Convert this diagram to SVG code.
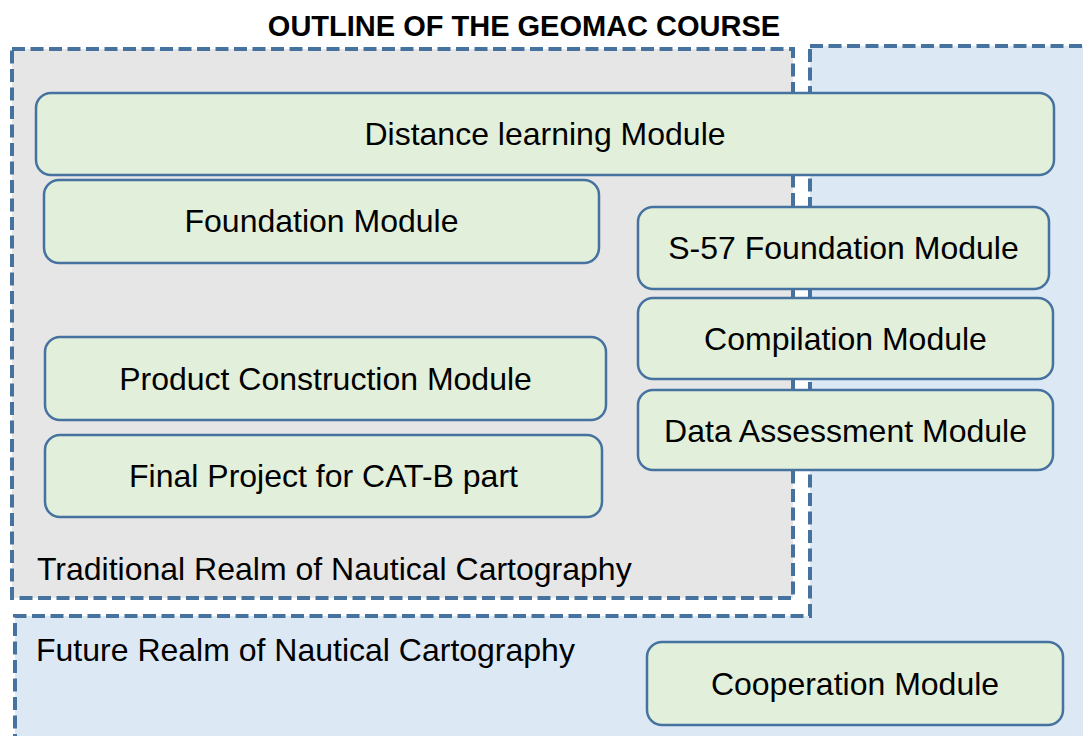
<svg xmlns="http://www.w3.org/2000/svg" width="1083" height="736" viewBox="0 0 1083 736">
<style>
.realm{stroke:#4672a0;stroke-width:4;stroke-dasharray:13 5.5;}
.node rect{fill:#e2efda;stroke:#4672a0;stroke-width:2.5;}
text{font-family:"Liberation Sans",Arial,sans-serif;fill:#000;}
.lbl{font-size:32px;text-anchor:middle;}
.rl{font-size:32px;}
.title{font-size:29px;font-weight:bold;text-anchor:middle;}
</style>
<rect width="1083" height="736" fill="#ffffff"/>
<g id="future-realm">
<path class="realm" fill="#dde8f5" d="M810,46 L1095,46 L1095,750 L15,750 L15,616 L810,616 Z"/>
<text class="rl" x="36" y="661">Future Realm of Nautical Cartography</text>
</g>
<g id="traditional-realm">
<rect class="realm" fill="#e6e6e6" x="12" y="49" width="781" height="549"/>
<text class="rl" x="37" y="580">Traditional Realm of Nautical Cartography</text>
</g>
<text class="title" x="524" y="36">OUTLINE OF THE GEOMAC COURSE</text>
<g id="connectors"></g>
<g id="distance-learning" class="node">
<rect x="36" y="93" width="1018" height="82" rx="15"/>
<text class="lbl" x="545" y="145">Distance learning Module</text>
</g>
<g id="foundation" class="node">
<rect x="44" y="180" width="555" height="83" rx="15"/>
<text class="lbl" x="321.5" y="232">Foundation Module</text>
</g>
<g id="s57-foundation" class="node">
<rect x="638" y="207" width="411" height="82" rx="15"/>
<text class="lbl" x="843.5" y="259">S-57 Foundation Module</text>
</g>
<g id="compilation" class="node">
<rect x="638" y="298" width="415" height="81" rx="15"/>
<text class="lbl" x="845.5" y="350">Compilation Module</text>
</g>
<g id="data-assessment" class="node">
<rect x="638" y="390" width="415" height="80" rx="15"/>
<text class="lbl" x="845.5" y="442">Data Assessment Module</text>
</g>
<g id="product-construction" class="node">
<rect x="45" y="337" width="561" height="83" rx="15"/>
<text class="lbl" x="325.5" y="390">Product Construction Module</text>
</g>
<g id="final-project" class="node">
<rect x="45" y="435" width="557" height="82" rx="15"/>
<text class="lbl" x="323.5" y="487">Final Project for CAT-B part</text>
</g>
<g id="cooperation" class="node">
<rect x="647" y="642" width="416" height="83" rx="15"/>
<text class="lbl" x="855" y="695">Cooperation Module</text>
</g>
</svg>
